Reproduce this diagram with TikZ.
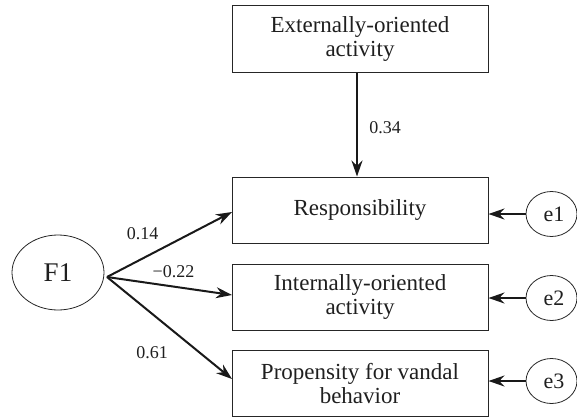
\documentclass[tikz,border=0pt]{standalone}
\usepackage{fontspec}
\setmainfont{Liberation Serif}
\usetikzlibrary{arrows.meta}
\begin{document}
\begin{tikzpicture}[x=1pt,y=-1pt,
  vbox/.style={draw=black!85,line width=1pt,minimum width=256pt,minimum height=66pt,inner sep=0pt,align=center,font=\fontsize{23}{24}\selectfont,text=black!88},
  path/.style={line width=2pt,-{Stealth[length=16pt,width=11pt]},black!90},
  coef/.style={font=\fontsize{18}{20}\selectfont,inner sep=0pt,text=black!88}]
\useasboundingbox (0,0) rectangle (577,417);
\clip (0,0) rectangle (577,417);
\node[vbox,minimum height=67pt] (ext) at (360,39.5) {Externally-oriented\\activity};
\node[vbox] (resp) at (360,210) {Responsibility};
\node[vbox] (int) at (360,297) {Internally-oriented\\activity};
\node[vbox] (prop) at (360,383.5) {Propensity for vandal\\behavior};
\draw[line width=0.8pt,black!85] (58,272.5) ellipse [x radius=46pt,y radius=37.5pt];
\node[font=\fontsize{27}{29}\selectfont,text=black!88] (f1) at (58,272.5) {F1};
\coordinate (f1e) at (107,277);
\foreach \n/\y in {e1/214,e2/298,e3/381}{
  \draw[line width=0.8pt,black!85] (551.5,\y) ellipse [x radius=25.5pt,y radius=22.5pt];
  \node[font=\fontsize{22}{24}\selectfont,text=black!88] (\n) at (554,\y) {\n};
  \coordinate (\n w) at (526,\y);
}
\coordinate (a) at (357,73);
\draw[path] (a) -- (a |- resp.north);
\draw[path] (f1e) -- (232,212);
\draw[path] (f1e) -- (232,295);
\draw[path] (f1e) -- (232,379);
\draw[path] (e1w) -- (e1w -| resp.east);
\draw[path] (e2w) -- (e2w -| int.east);
\draw[path] (e3w) -- (e3w -| prop.east);
\node[coef] (c1) at (385,128) {0.34};
\node[coef] (c2) at (142.5,234) {0.14};
\node[coef] (c3) at (173.5,272) {−0.22};
\node[coef] (c4) at (152,353) {0.61};
\end{tikzpicture}
\end{document}
